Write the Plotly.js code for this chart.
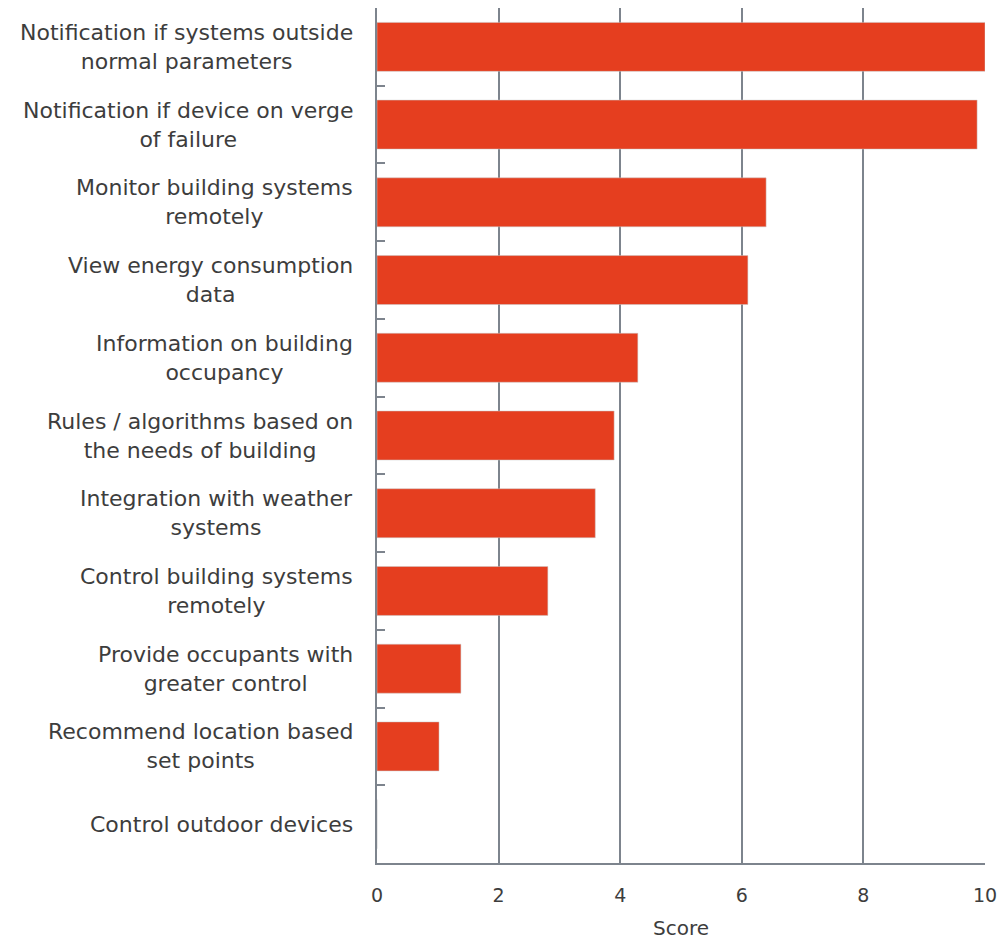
<!DOCTYPE html>
<html>
<head>
<meta charset="utf-8">
<script src="https://cdn.plot.ly/plotly-3.0.1.min.js"></script>
<style>html,body{margin:0;padding:0;background:#fff;}#chart{width:1000px;height:940px;}</style>
</head>
<body>
<div id="chart"></div>
<script>
const categories = [
  "Notification if systems outside<br>normal parameters",
  "Notification if device on verge<br>of failure",
  "Monitor building systems<br>remotely",
  "View energy consumption<br>data",
  "Information on building<br>occupancy",
  "Rules / algorithms based on<br>the needs of building",
  "Integration with weather<br>systems",
  "Control building systems<br>remotely",
  "Provide occupants with<br>greater control",
  "Recommend location based<br>set points",
  "Control outdoor devices"
];
const scores = [10.0, 9.87, 6.40, 6.10, 4.29, 3.90, 3.59, 2.81, 1.38, 1.02, 0];
const xTicks = [0, 2, 4, 6, 8, 10];

const gray = "#7d848d";
const textColor = "#3d3d3d";
const fontFam = "'DejaVu Sans', sans-serif";

const trace = {
  type: "bar",
  orientation: "h",
  y: categories,
  x: scores,
  marker: {color: "#E53E1F", line: {color: "#c9c9c9", width: 0.5}},
  width: 0.63,
  hoverinfo: "x+y"
};

const annotations = categories.map(c => ({
  xref: "paper", yref: "y", x: -0.037, y: c,
  text: c, showarrow: false, xanchor: "right", yanchor: "middle",
  align: "center",
  font: {family: fontFam, size: 22, color: textColor}
}));

const layout = {
  width: 1000, height: 940,
  margin: {l: 377, r: 15, t: 8, b: 77},
  paper_bgcolor: "#fff", plot_bgcolor: "#fff",
  showlegend: false,
  font: {family: fontFam, color: textColor},
  xaxis: {
    range: [0, 10], tickvals: xTicks, ticktext: xTicks.map(String),
    showgrid: true, gridcolor: gray, gridwidth: 2,
    zeroline: false, showline: true, linecolor: gray, linewidth: 2,
    ticks: "", ticklabelstandoff: 14,
    tickfont: {size: 19, color: textColor, family: fontFam},
    title: {text: "Score", font: {size: 20, color: textColor, family: fontFam}, standoff: 19},
    fixedrange: true
  },
  yaxis: {
    type: "category", categoryorder: "array", categoryarray: categories,
    range: [10.5, -0.5],
    showgrid: false, zeroline: false, showline: true, linecolor: gray, linewidth: 2,
    showticklabels: false,
    tickson: "boundaries", ticks: "inside", ticklen: 8, tickwidth: 2, tickcolor: gray,
    fixedrange: true
  },
  annotations: annotations
};

Plotly.newPlot("chart", [trace], layout, {displayModeBar: false, staticPlot: true});
</script>
</body>
</html>
